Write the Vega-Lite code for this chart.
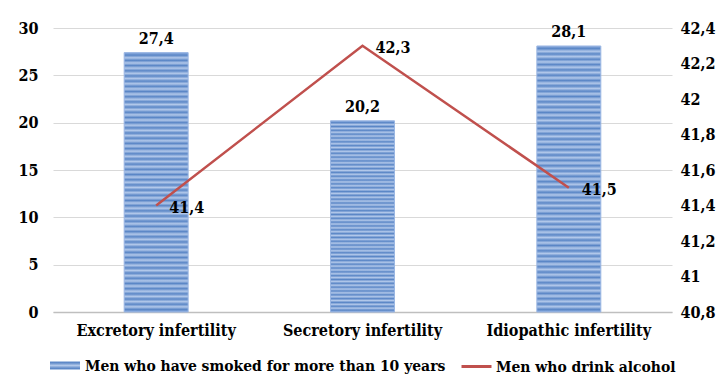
{
  "$schema": "https://vega.github.io/schema/vega-lite/v6.json",
  "width": 619,
  "height": 284,
  "autosize": {"type": "none"},
  "padding": {"left": 53, "top": 28, "right": 49, "bottom": 75},
  "background": "white",
  "config": {
    "locale": {"number": {"decimal": ",", "thousands": " ", "grouping": [3], "currency": ["", ""]}},
    "font": "DejaVu Serif Condensed, DejaVu Serif",
    "view": {"stroke": null},
    "axis": {"labelFont": "DejaVu Serif Condensed, DejaVu Serif", "labelFontWeight": "bold", "labelFontSize": 16, "labelColor": "#000000", "ticks": false, "title": null},
    "legend": {"labelLimit": 0, "layout": {"bottom": {"anchor": "middle", "direction": "horizontal", "center": true, "margin": 14}}}
  },
  "data": {"values": [
    {"group": "Excretory infertility", "smoked": 27.4, "alcohol": 41.4},
    {"group": "Secretory infertility", "smoked": 20.2, "alcohol": 42.3},
    {"group": "Idiopathic infertility", "smoked": 28.1, "alcohol": 41.5}
  ]},
  "encoding": {
    "x": {"field": "group", "type": "nominal", "sort": null,
      "scale": {"paddingInner": 0, "paddingOuter": 0},
      "axis": {"labelAngle": 0, "domainColor": "#bfbfbf", "domainWidth": 1.5, "labelPadding": 10, "grid": false}}
  },
  "layer": [
    {
      "encoding": {
        "y": {"field": "smoked", "type": "quantitative",
          "scale": {"domain": [0, 30], "nice": false},
          "axis": {"values": [0, 5, 10, 15, 20, 25, 30], "domain": false, "grid": true, "gridColor": "#d9d9d9", "labelPadding": 15, "orient": "left"}}
      },
      "layer": [
        {
          "mark": {"type": "bar", "width": {"band": 0.31}, "strokeWidth": 1,
            "fill": {"gradient": "linear", "x1": 0, "y1": 0, "x2": 0, "y2": 1, "stops": [
                {"offset": 0.00, "color": "#8eaee0"},{"offset": 0.01, "color": "#5a86c6"},{"offset": 0.02, "color": "#b2c8ea"},{"offset": 0.03, "color": "#5a86c6"},{"offset": 0.04, "color": "#b2c8ea"},
                {"offset": 0.05, "color": "#5a86c6"},{"offset": 0.06, "color": "#b2c8ea"},{"offset": 0.07, "color": "#5a86c6"},{"offset": 0.08, "color": "#b2c8ea"},{"offset": 0.09, "color": "#5a86c6"},
                {"offset": 0.10, "color": "#b2c8ea"},{"offset": 0.11, "color": "#5a86c6"},{"offset": 0.12, "color": "#b2c8ea"},{"offset": 0.13, "color": "#5a86c6"},{"offset": 0.14, "color": "#b2c8ea"},
                {"offset": 0.15, "color": "#5a86c6"},{"offset": 0.16, "color": "#b2c8ea"},{"offset": 0.17, "color": "#5a86c6"},{"offset": 0.18, "color": "#b2c8ea"},{"offset": 0.19, "color": "#5a86c6"},
                {"offset": 0.20, "color": "#b2c8ea"},{"offset": 0.21, "color": "#5a86c6"},{"offset": 0.22, "color": "#b2c8ea"},{"offset": 0.23, "color": "#5a86c6"},{"offset": 0.24, "color": "#b2c8ea"},
                {"offset": 0.25, "color": "#5a86c6"},{"offset": 0.26, "color": "#b2c8ea"},{"offset": 0.27, "color": "#5a86c6"},{"offset": 0.28, "color": "#b2c8ea"},{"offset": 0.29, "color": "#5a86c6"},
                {"offset": 0.30, "color": "#b2c8ea"},{"offset": 0.31, "color": "#5a86c6"},{"offset": 0.32, "color": "#b2c8ea"},{"offset": 0.33, "color": "#5a86c6"},{"offset": 0.34, "color": "#b2c8ea"},
                {"offset": 0.35, "color": "#5a86c6"},{"offset": 0.36, "color": "#b2c8ea"},{"offset": 0.37, "color": "#5a86c6"},{"offset": 0.38, "color": "#b2c8ea"},{"offset": 0.39, "color": "#5a86c6"},
                {"offset": 0.40, "color": "#b2c8ea"},{"offset": 0.41, "color": "#5a86c6"},{"offset": 0.42, "color": "#b2c8ea"},{"offset": 0.43, "color": "#5a86c6"},{"offset": 0.44, "color": "#b2c8ea"},
                {"offset": 0.45, "color": "#5a86c6"},{"offset": 0.46, "color": "#b2c8ea"},{"offset": 0.47, "color": "#5a86c6"},{"offset": 0.48, "color": "#b2c8ea"},{"offset": 0.49, "color": "#5a86c6"},
                {"offset": 0.50, "color": "#b2c8ea"},{"offset": 0.51, "color": "#5a86c6"},{"offset": 0.52, "color": "#b2c8ea"},{"offset": 0.53, "color": "#5a86c6"},{"offset": 0.54, "color": "#b2c8ea"},
                {"offset": 0.55, "color": "#5a86c6"},{"offset": 0.56, "color": "#b2c8ea"},{"offset": 0.57, "color": "#5a86c6"},{"offset": 0.58, "color": "#b2c8ea"},{"offset": 0.59, "color": "#5a86c6"},
                {"offset": 0.60, "color": "#b2c8ea"},{"offset": 0.61, "color": "#5a86c6"},{"offset": 0.62, "color": "#b2c8ea"},{"offset": 0.63, "color": "#5a86c6"},{"offset": 0.64, "color": "#b2c8ea"},
                {"offset": 0.65, "color": "#5a86c6"},{"offset": 0.66, "color": "#b2c8ea"},{"offset": 0.67, "color": "#5a86c6"},{"offset": 0.68, "color": "#b2c8ea"},{"offset": 0.69, "color": "#5a86c6"},
                {"offset": 0.70, "color": "#b2c8ea"},{"offset": 0.71, "color": "#5a86c6"},{"offset": 0.72, "color": "#b2c8ea"},{"offset": 0.73, "color": "#5a86c6"},{"offset": 0.74, "color": "#b2c8ea"},
                {"offset": 0.75, "color": "#5a86c6"},{"offset": 0.76, "color": "#b2c8ea"},{"offset": 0.77, "color": "#5a86c6"},{"offset": 0.78, "color": "#b2c8ea"},{"offset": 0.79, "color": "#5a86c6"},
                {"offset": 0.80, "color": "#b2c8ea"},{"offset": 0.81, "color": "#5a86c6"},{"offset": 0.82, "color": "#b2c8ea"},{"offset": 0.83, "color": "#5a86c6"},{"offset": 0.84, "color": "#b2c8ea"},
                {"offset": 0.85, "color": "#5a86c6"},{"offset": 0.86, "color": "#b2c8ea"},{"offset": 0.87, "color": "#5a86c6"},{"offset": 0.88, "color": "#b2c8ea"},{"offset": 0.89, "color": "#5a86c6"},
                {"offset": 0.90, "color": "#b2c8ea"},{"offset": 0.91, "color": "#5a86c6"},{"offset": 0.92, "color": "#b2c8ea"},{"offset": 0.93, "color": "#5a86c6"},{"offset": 0.94, "color": "#b2c8ea"},
                {"offset": 0.95, "color": "#5a86c6"},{"offset": 0.96, "color": "#b2c8ea"},{"offset": 0.97, "color": "#5a86c6"},{"offset": 0.98, "color": "#b2c8ea"},{"offset": 0.99, "color": "#5a86c6"},
                {"offset": 1.00, "color": "#8eaee0"}
              ]}},
          "encoding": {
            "stroke": {"datum": "Men who have smoked for more than 10 years", "type": "nominal",
              "scale": {"range": ["#9ab6e3"]},
              "legend": {"orient": "bottom", "title": null, "symbolType": "M-1,-0.27H1V0.27H-1Z", "symbolSize": 900, "symbolStrokeWidth": 0, "symbolFillColor": "#7fa3d8",
                "labelFont": "DejaVu Serif Condensed, DejaVu Serif", "labelFontWeight": "bold", "labelFontSize": 15.5, "labelColor": "#000000", "labelOffset": 5, "labelLimit": 0, "offset": 12}}
          }
        },
        {
          "mark": {"type": "text", "dy": -14, "font": "DejaVu Serif Condensed, DejaVu Serif", "fontWeight": "bold", "fontSize": 16, "color": "#000000"},
          "encoding": {"text": {"field": "smoked", "type": "quantitative", "format": ".1f"}}
        }
      ]
    },
    {
      "encoding": {
        "y": {"field": "alcohol", "type": "quantitative",
          "scale": {"domain": [40.8, 42.4], "nice": false, "zero": false},
          "axis": {"orient": "right", "values": [40.8, 41, 41.2, 41.4, 41.6, 41.8, 42, 42.2, 42.4], "format": ".4~g", "domain": false, "grid": false, "labelPadding": 8}}
      },
      "layer": [
        {
          "mark": {"type": "line", "strokeWidth": 2.5},
          "encoding": {
            "stroke": {"datum": "Men who drink alcohol", "type": "nominal",
              "scale": {"range": ["#c0504d"]},
              "legend": {"orient": "bottom", "title": null, "symbolType": "stroke", "symbolSize": 900, "symbolStrokeWidth": 3,
                "labelFont": "DejaVu Serif Condensed, DejaVu Serif", "labelFontWeight": "bold", "labelFontSize": 15.5, "labelColor": "#000000", "labelOffset": 3, "labelLimit": 0, "offset": 12}}
          }
        },
        {
          "mark": {"type": "text", "align": "left", "dx": 13, "dy": 2, "font": "DejaVu Serif Condensed, DejaVu Serif", "fontWeight": "bold", "fontSize": 16, "color": "#000000"},
          "encoding": {"text": {"field": "alcohol", "type": "quantitative", "format": ".1f"}}
        }
      ]
    }
  ],
  "resolve": {"scale": {"y": "independent", "stroke": "independent"}}
}
